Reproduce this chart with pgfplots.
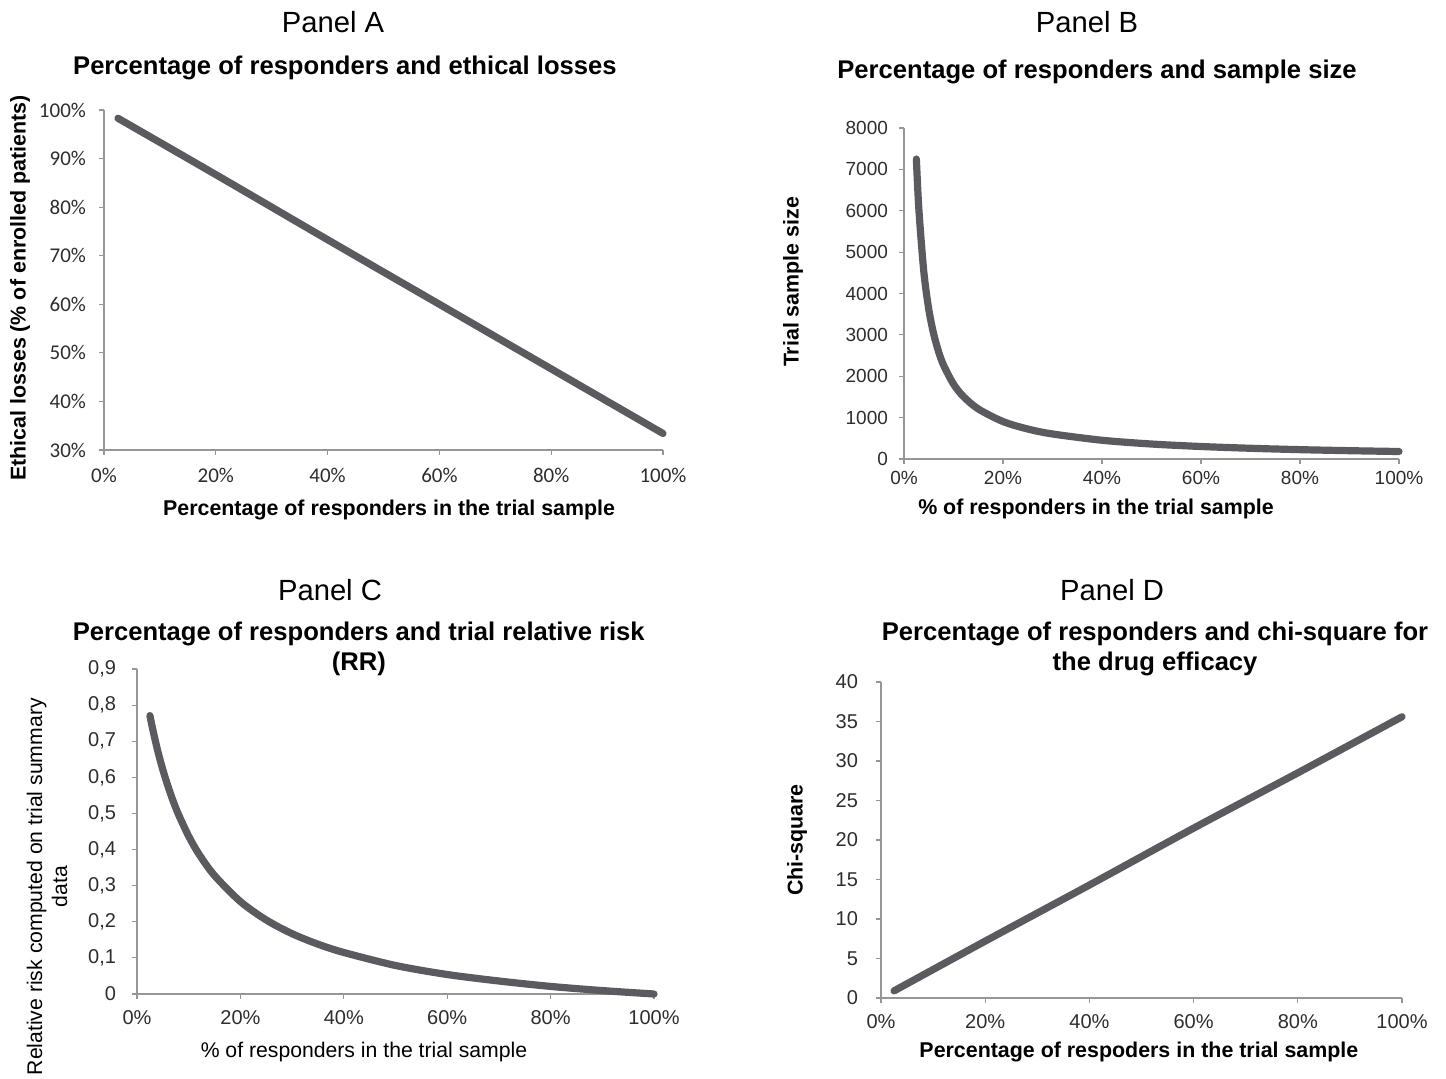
\documentclass[border=0pt]{standalone}
\usepackage{pgfplots}
\pgfplotsset{compat=1.18}
\usepackage{fontspec}
\setmainfont{Liberation Sans}
\newfontfamily\calfont{Carlito}
\definecolor{curve}{RGB}{90,90,95}
\definecolor{axgray}{RGB}{150,150,150}
\definecolor{ticktext}{RGB}{45,45,45}
\pgfplotsset{
  every axis title shift=0pt,
  panel/.style={
    scale only axis,
    anchor=south west,
    axis x line*=bottom,
    axis y line*=left,
    axis line style={axgray, line width=0.6pt, -},
    tick align=outside,
    major tick length=2.5pt,
    tick style={axgray, line width=0.6pt},
    xmin=0, xmax=100,
    xtick={0,20,40,60,80,100},
    xticklabels={0\%,20\%,40\%,60\%,80\%,100\%},
    tick label style={text=ticktext, font=\fontsize{9.5}{11}\selectfont},
    title style={font=\fontsize{12.8}{15}\bfseries, anchor=center, align=center, yshift=0pt},
    label style={font=\fontsize{10.7}{12.5}\bfseries, anchor=center},
    clip=false,
  },
  curvestyle/.style={curve, line width=3.6pt, line cap=round, line join=round, no markers, smooth},
}
\begin{document}
\begin{tikzpicture}
\path[use as bounding box] (0,0) rectangle (723pt,539pt);
\node[font=\fontsize{14.6}{17}\selectfont] at (166.5pt,528pt) {Panel A};
\node[font=\fontsize{14.6}{17}\selectfont] at (543.5pt,528pt) {Panel B};
\node[font=\fontsize{14.6}{17}\selectfont] at (165pt,244pt) {Panel C};
\node[font=\fontsize{14.6}{17}\selectfont] at (556pt,244pt) {Panel D};

% Panel A
\begin{axis}[panel,
  at={(52pt,314pt)}, width=279.5pt, height=170pt,
  ymin=30, ymax=100,
  ytick={30,40,50,60,70,80,90,100},
  yticklabels={30\%,40\%,50\%,60\%,70\%,80\%,90\%,100\%},
  tick label style={font=\calfont\fontsize{10.5}{12}\selectfont},
  yticklabel style={xshift=-3pt},
  xticklabel style={yshift=-3pt},
  title={Percentage of responders and ethical losses},
  title style={at={(axis description cs:0.431,1.124)}},
  xlabel={Percentage of responders in the trial sample},
  xlabel style={at={(axis description cs:0.51,-0.176)}},
  ylabel={Ethical losses (\% of enrolled patients)},
  ylabel style={at={(axis description cs:-0.150,0.476)}, rotate=0},
]
\addplot[curvestyle] coordinates {(2.5,98.3) (20,86.7) (40,73.3) (60,60.0) (80,46.7) (100,33.4)};
\end{axis}

% Panel B
\begin{axis}[panel,
  at={(452pt,309.5pt)}, width=247.5pt, height=165.5pt,
  ymin=0, ymax=8000,
  ytick={0,1000,2000,3000,4000,5000,6000,7000,8000},
  yticklabels={0,1000,2000,3000,4000,5000,6000,7000,8000},
  yticklabel style={xshift=-2pt},
  title={Percentage of responders and sample size},
  title style={at={(axis description cs:0.390,1.169)}},
  xlabel={\% of responders in the trial sample},
  xlabel style={at={(axis description cs:0.388,-0.151)}},
  ylabel={Trial sample size},
  ylabel style={at={(axis description cs:-0.224,0.535)}},
]
\addplot[curvestyle] coordinates {(2.5,7250) (3,6040) (4,4530) (5,3620) (6,3020) (7,2590) (8,2265) (10,1810) (12,1510) (15,1210) (20,905) (25,725) (30,605) (40,453) (50,362) (60,302) (70,259) (80,226) (90,201) (100,181)};
\end{axis}

% Panel C
\begin{axis}[panel,
  at={(68.5pt,42pt)}, width=258.5pt, height=162.5pt,
  ymin=0, ymax=0.9,
  ytick={0,0.1,0.2,0.3,0.4,0.5,0.6,0.7,0.8,0.9},
  yticklabels={0,{0,1},{0,2},{0,3},{0,4},{0,5},{0,6},{0,7},{0,8},{0,9}},
  tick label style={font=\fontsize{10}{12}\selectfont},
  yticklabel style={xshift=-4.5pt},
  xticklabel style={yshift=-2pt},
  title={Percentage of responders and trial relative risk\\(RR)},
  title style={at={(axis description cs:0.429,1.062)}},
  xlabel={\% of responders in the trial sample},
  xlabel style={at={(axis description cs:0.439,-0.178)}, font=\fontsize{10.6}{12.5}\selectfont},
  ylabel={Relative risk computed on trial summary\\data},
  ylabel style={at={(axis description cs:-0.174,0.33)}, align=center, font=\fontsize{10.6}{12.5}\selectfont},
]
\addplot[curvestyle] coordinates {(2.5,0.771) (3,0.736) (4,0.674) (5,0.621) (6,0.575) (7,0.534) (8,0.498) (10,0.437) (12,0.387) (15,0.328) (20,0.256) (25,0.205) (30,0.167) (35,0.138) (40,0.115) (50,0.079) (60,0.054) (70,0.036) (80,0.021) (90,0.0095) (100,0.0)};
\end{axis}

% Panel D
\begin{axis}[panel,
  at={(440.5pt,40pt)}, width=260.5pt, height=158pt,
  ymin=0, ymax=40,
  ytick={0,5,10,15,20,25,30,35,40},
  yticklabels={0,5,10,15,20,25,30,35,40},
  tick label style={font=\fontsize{10}{12}\selectfont},
  yticklabel style={xshift=-5.5pt},
  xticklabel style={yshift=-2pt},
  title={Percentage of responders and chi-square for\\the drug efficacy},
  title style={at={(axis description cs:0.526,1.104)}},
  xlabel={Percentage of respoders in the trial sample},
  xlabel style={at={(axis description cs:0.495,-0.171)}},
  ylabel={Chi-square},
  ylabel style={at={(axis description cs:-0.161,0.5)}},
]
\addplot[curvestyle] coordinates {(2.5,0.9) (20,7.2) (40,14.3) (60,21.5) (80,28.5) (100,35.6)};
\end{axis}
\end{tikzpicture}
\end{document}
